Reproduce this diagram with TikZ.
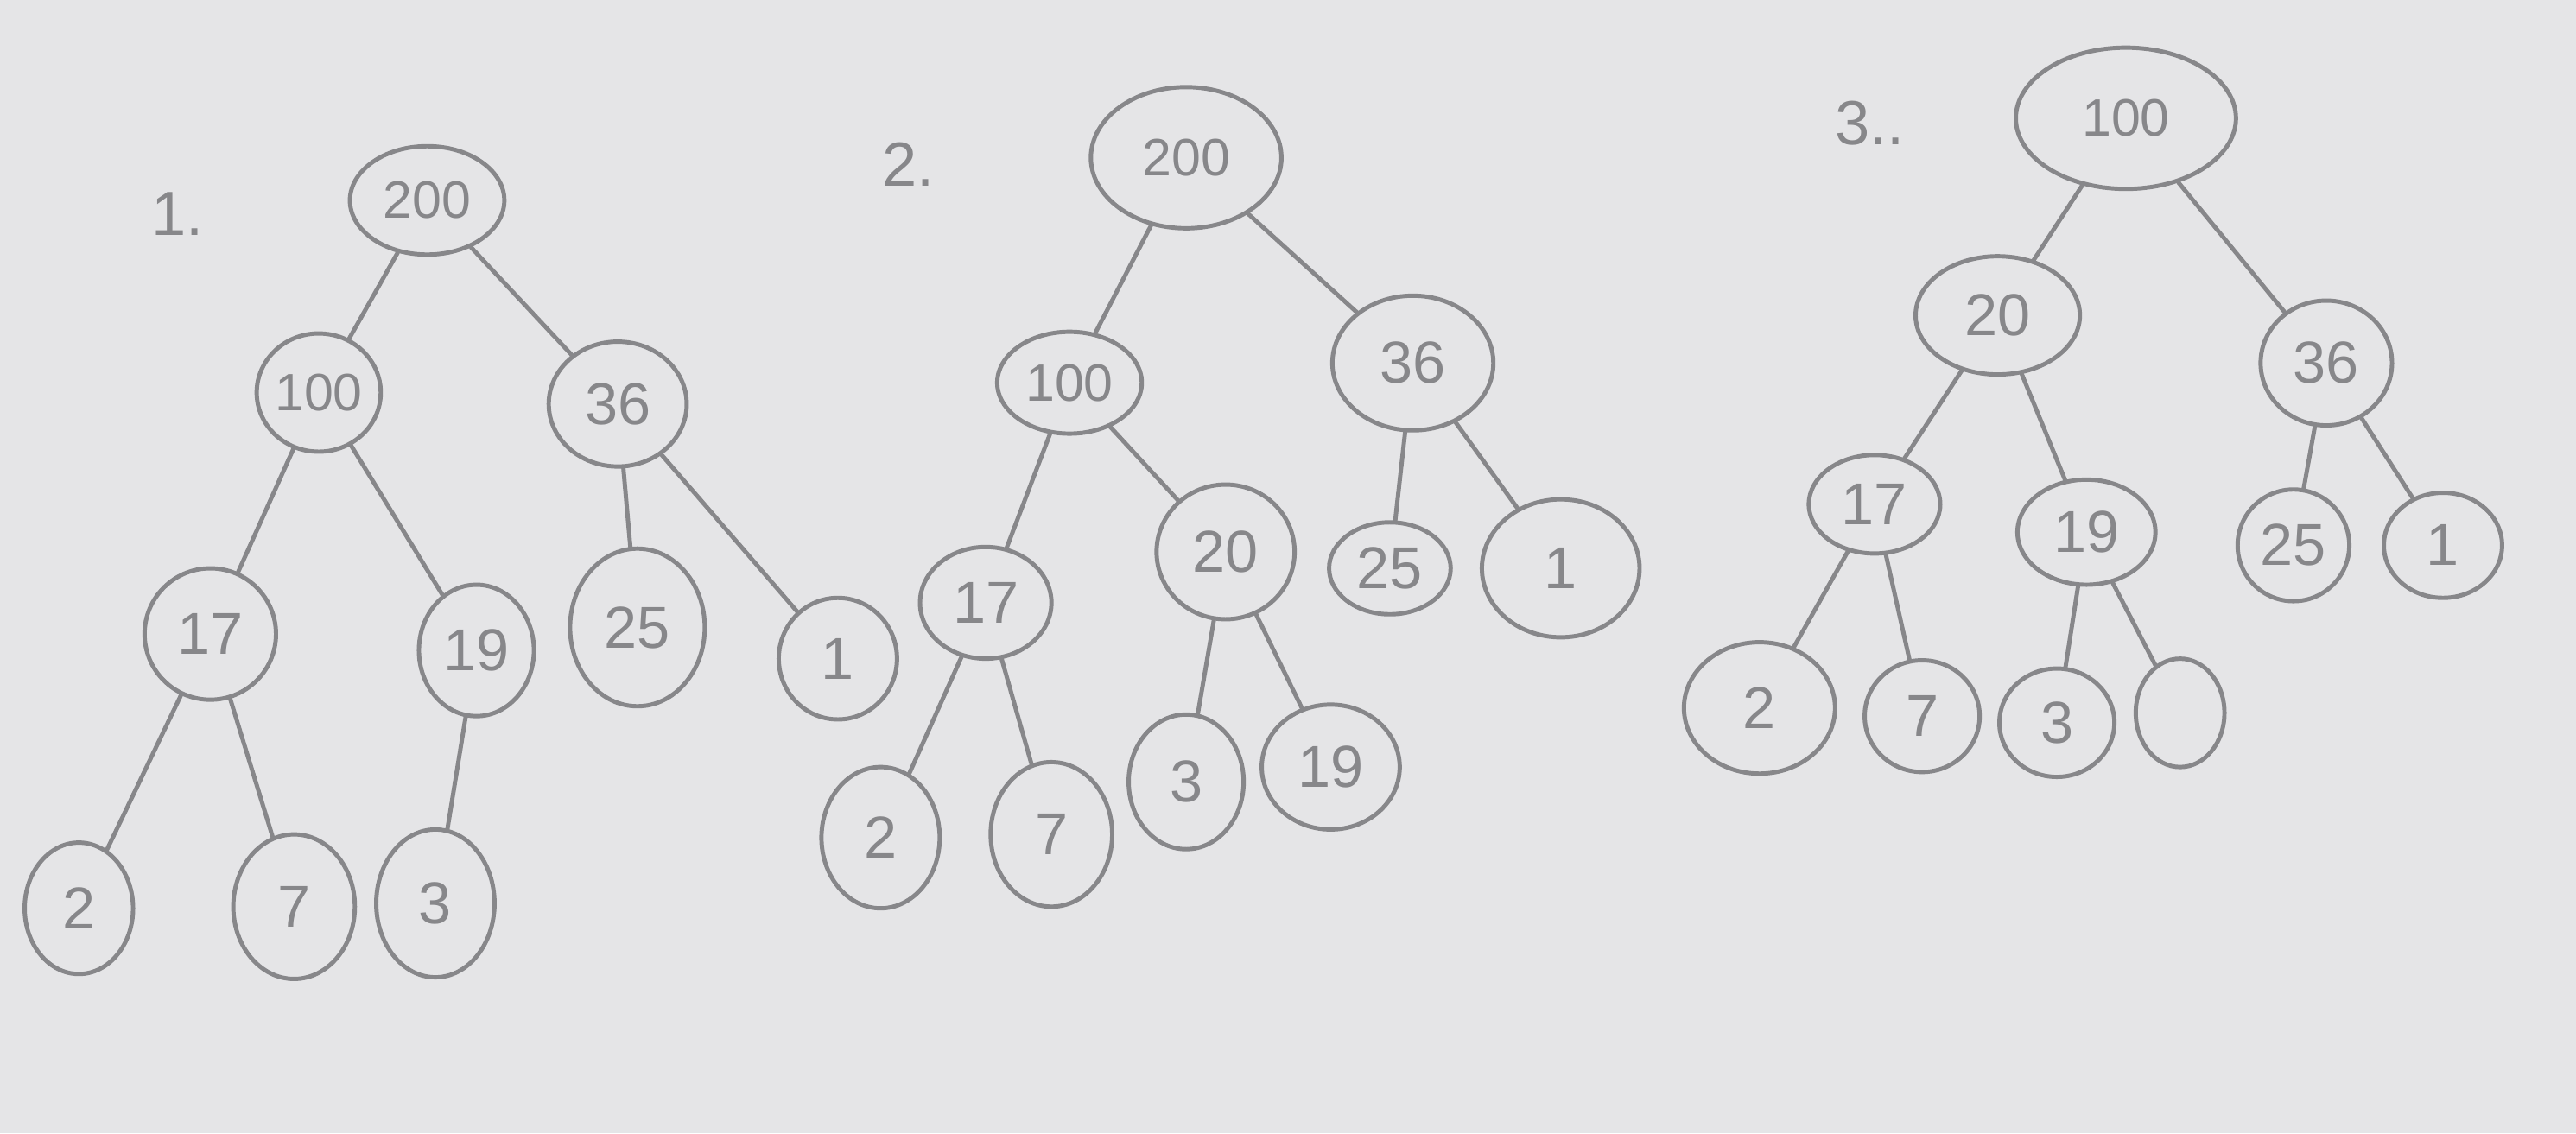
\documentclass[tikz,border=0pt]{standalone}
\usepackage{fontspec}
\setmainfont{Liberation Sans}
\usetikzlibrary{shapes.geometric}
\definecolor{paper}{RGB}{229,229,231}
\definecolor{pencil}{RGB}{135,135,138}
\tikzset{
  nd/.style={ellipse, draw=pencil, line width=2.6pt, inner sep=0pt, text=pencil,
    font=\fontsize{36}{38}\selectfont},
  big/.style={font=\fontsize{32}{34}\selectfont},
  lbl/.style={text=pencil, font=\fontsize{38}{40}\selectfont, inner sep=0pt},
  edge/.style={draw=pencil, line width=2.6pt, line cap=round}
}
\begin{document}
\begin{tikzpicture}[x=1pt,y=-1pt]
\fill[paper] (0,0) rectangle (1568,690);
\useasboundingbox (0,0) rectangle (1568,690);
% ---------- tree 1 ----------
\node[lbl] (t1) at (108,130) {1.};
\node[nd, big, minimum width=94, minimum height=66] (a200) at (260,122) {200};
\node[nd, big, minimum width=68, minimum height=72] (a100) at (194,239) {100};
\node[nd, minimum width=84, minimum height=76] (a36) at (376,246) {36};
\node[nd, minimum width=80, minimum height=80] (a17) at (128,386) {17};
\node[nd, minimum width=70, minimum height=80] (a19) at (290,396) {19};
\node[nd, minimum width=82, minimum height=96] (a25) at (388,382) {25};
\node[nd, minimum width=72, minimum height=74] (a1) at (510,401) {1};
\node[nd, minimum width=66, minimum height=80] (a2) at (48,553) {2};
\node[nd, minimum width=74, minimum height=88] (a7) at (179,552) {7};
\node[nd, minimum width=72, minimum height=90] (a3) at (265,550) {3};
\draw[edge] (a200) -- (a100);
\draw[edge] (a200) -- (a36);
\draw[edge] (a100) -- (a17);
\draw[edge] (a100) -- (a19);
\draw[edge] (a36) -- (a25);
\draw[edge] (a36) -- (a1);
\draw[edge] (a17) -- (a2);
\draw[edge] (a17) -- (a7);
\draw[edge] (a19) -- (a3);
% ---------- tree 2 ----------
\node[lbl] (t2) at (553,100) {2.};
\node[nd, big, minimum width=116, minimum height=86] (b200) at (722,96) {200};
\node[nd, big, minimum width=88, minimum height=62] (b100) at (651,233) {100};
\node[nd, minimum width=98, minimum height=82] (b36) at (860,221) {36};
\node[nd, minimum width=80, minimum height=68] (b17) at (600,367) {17};
\node[nd, minimum width=84, minimum height=82] (b20) at (746,336) {20};
\node[nd, minimum width=74, minimum height=56] (b25) at (846,346) {25};
\node[nd, minimum width=96, minimum height=84] (b1) at (950,346) {1};
\node[nd, minimum width=72, minimum height=86] (b2) at (536,510) {2};
\node[nd, minimum width=74, minimum height=88] (b7) at (640,508) {7};
\node[nd, minimum width=70, minimum height=82] (b3) at (722,476) {3};
\node[nd, minimum width=84, minimum height=76] (b19) at (810,467) {19};
\draw[edge] (b200) -- (b100);
\draw[edge] (b200) -- (b36);
\draw[edge] (b100) -- (b17);
\draw[edge] (b100) -- (b20);
\draw[edge] (b36) -- (b25);
\draw[edge] (b36) -- (b1);
\draw[edge] (b17) -- (b2);
\draw[edge] (b17) -- (b7);
\draw[edge] (b20) -- (b3);
\draw[edge] (b20) -- (b19);
% ---------- tree 3 ----------
\node[lbl] (t3) at (1138,75) {3..};
\node[nd, big, minimum width=134, minimum height=86] (c100) at (1294,72) {100};
\node[nd, minimum width=100, minimum height=72] (c20) at (1216,192) {20};
\node[nd, minimum width=80, minimum height=76] (c36) at (1416,221) {36};
\node[nd, minimum width=80, minimum height=60] (c17) at (1141,307) {17};
\node[nd, minimum width=84, minimum height=64] (c19) at (1270,324) {19};
\node[nd, minimum width=68, minimum height=68] (c25) at (1396,332) {25};
\node[nd, minimum width=72, minimum height=64] (c1) at (1487,332) {1};
\node[nd, minimum width=92, minimum height=80] (c2) at (1071,431) {2};
\node[nd, minimum width=70, minimum height=68] (c7) at (1170,436) {7};
\node[nd, minimum width=70, minimum height=66] (c3) at (1252,440) {3};
\node[nd, minimum width=54, minimum height=66] (cx) at (1327,434) {};
\draw[edge] (c100) -- (c20);
\draw[edge] (c100) -- (c36);
\draw[edge] (c20) -- (c17);
\draw[edge] (c20) -- (c19);
\draw[edge] (c36) -- (c25);
\draw[edge] (c36) -- (c1);
\draw[edge] (c17) -- (c2);
\draw[edge] (c17) -- (c7);
\draw[edge] (c19) -- (c3);
\draw[edge] (c19) -- (cx);
\end{tikzpicture}
\end{document}
